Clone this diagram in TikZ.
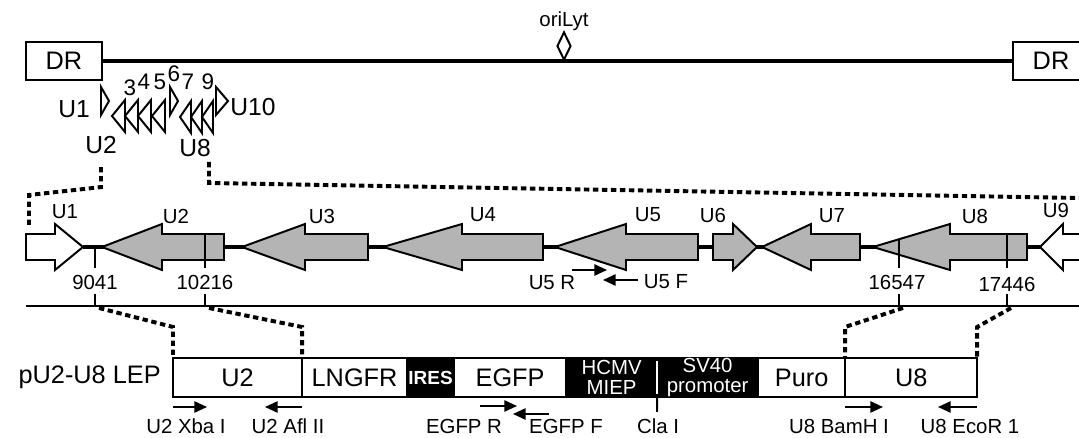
\documentclass[tikz,border=0pt]{standalone}
\usepackage{fontspec}
\setmainfont{Liberation Sans}
\usepackage{tikz}
\usetikzlibrary{shapes.geometric, arrows.meta, positioning}
\definecolor{orfgray}{RGB}{180,180,180}
\tikzstyle{genome} = [line width=2.8pt]
\tikzstyle{link} = [line width=2.8pt, dash pattern=on 3.8pt off 2.6pt]
\tikzstyle{primer} = [line width=1.4pt, -{Triangle[length=9pt, width=8pt]}]
\newcommand{\fsbig}{\fontsize{18pt}{18pt}\selectfont}
\newcommand{\fsbox}{\fontsize{18pt}{18pt}\selectfont}
\newcommand{\fstop}{\fontsize{17.5pt}{18pt}\selectfont}
\newcommand{\fslab}{\fontsize{14.5pt}{15pt}\selectfont}
\newcommand{\fsdigit}{\fontsize{16pt}{16pt}\selectfont}
\newcommand{\fsires}{\fontsize{13.5pt}{14pt}\selectfont\bfseries}
\newcommand{\fsdark}{\fontsize{14.5pt}{14pt}\selectfont}
\newcommand{\orfleft}[4]{\filldraw[fill=#4, line width=1.4pt] (#1,247) -- (#2,224) -- (#2,234) -- (#3,234) -- (#3,260) -- (#2,260) -- (#2,270) -- cycle;}
\newcommand{\orfright}[4]{\filldraw[fill=#4, line width=1.4pt] (#1,234) -- (#2,234) -- (#2,224) -- (#3,247) -- (#2,270) -- (#2,260) -- (#1,260) -- cycle;}
\newcommand{\minileft}[3]{\draw[line width=1.4pt] (#2,#3-16) -- (#1,#3) -- (#2,#3+16) -- cycle;}
\newcommand{\miniright}[3]{\draw[line width=1.4pt] (#1,#3-14) -- (#2,#3) -- (#1,#3+14) -- cycle;}

\begin{document}
\begin{tikzpicture}[x=0.025cm, y=-0.025cm,
        drbox/.style={rectangle, draw, line width=1.4pt, minimum width=1.9cm, minimum height=0.95cm, font=\fsbig},
        seg/.style={rectangle, draw, line width=1.4pt, inner sep=0pt, outer sep=0pt, minimum height=0.975cm, font=\fsbox},
        darkseg/.style={seg, fill=black, text=white},
        orflabel/.style={font=\fslab, inner sep=1pt}
        ]
        \clip (0,0) rectangle (1079,438);

        \node[drbox] (dr_left) at (64,61) {DR};
        \node[drbox] (dr_right) at (1051,61) {DR};
        \draw[line width=3pt] (dr_left) -- (dr_right);
        \node[diamond, draw, line width=1.4pt, fill=white, inner sep=0pt, minimum width=0.35cm, minimum height=0.7cm] (ori) at (564,46) {};
        \node[orflabel] (ori_lbl) at (564,21) {oriLyt};

        \miniright{101}{109}{101}
        \foreach \t in {112,125,138,152} {\minileft{\t}{\t+13}{116}}
        \miniright{170}{178}{101}
        \foreach \t in {180,191,202} {\minileft{\t}{\t+11}{117}}
        \miniright{216}{228}{101}

        \node[font=\fstop] (s_u1) at (74,109) {U1};
        \node[font=\fstop] (s_u2) at (101,145) {U2};
        \node[font=\fstop] (s_u8) at (195,148) {U8};
        \node[font=\fstop] (s_u10) at (253,107) {U10};
        \node[font=\fsdigit, inner sep=0pt] (s_3) at (130,88) {3};
        \node[font=\fsdigit, inner sep=0pt] (s_4) at (144,82) {4};
        \node[font=\fsdigit, inner sep=0pt] (s_5) at (160,82) {5};
        \node[font=\fsdigit, inner sep=0pt] (s_6) at (174,74) {6};
        \node[font=\fsdigit, inner sep=0pt] (s_7) at (188,82) {7};
        \node[font=\fsdigit, inner sep=0pt] (s_9) at (208,82) {9};

        \coordinate (map_left) at (29,225);
        \coordinate (link_u8) at (209,162);
        \coordinate (map_right) at (1079,198);
        \draw[link] ([yshift=-6pt]s_u2.south) -- ++(0,20) -- (29,195) -- (map_left);
        \draw[link] (link_u8) -- ++(0,21) -- (map_right);

        \coordinate (u1_tip) at (83,247);
        \coordinate (u9_tip) at (1040,247);
        \draw[genome] (u1_tip) -- (u9_tip);
        \orfright{26}{55}{83}{white}
        \orfleft{102}{162}{224}{orfgray}
        \orfleft{242}{305}{368}{orfgray}
        \orfleft{383}{462}{543}{orfgray}
        \orfleft{555}{626}{698}{orfgray}
        \orfright{713}{733}{757}{orfgray}
        \orfleft{762}{811}{860}{orfgray}
        \orfleft{873}{950}{1027}{orfgray}
        \orfleft{1040}{1063}{1110}{white}
        \draw[line width=1.4pt] (95,247) -- (95,268);
        \draw[line width=1.4pt] (205,234) -- (205,268);
        \draw[line width=1.4pt] (899,239) -- (899,268);
        \draw[line width=1.4pt] (1007,234) -- (1007,268);

        \node[orflabel] (g_u1) at (65,212) {U1};
        \node[orflabel] (g_u2) at (176,216) {U2};
        \node[orflabel] (g_u3) at (322,216) {U3};
        \node[orflabel] (g_u4) at (483,215) {U4};
        \node[orflabel] (g_u5) at (648,215) {U5};
        \node[orflabel] (g_u6) at (713,215) {U6};
        \node[orflabel] (g_u7) at (832,216) {U7};
        \node[orflabel] (g_u8) at (975,216) {U8};
        \node[orflabel] (g_u9) at (1056,210) {U9};

        \draw[primer] (572,270) -- (607,270);
        \draw[primer] (638,280) -- (603,280);
        \node[orflabel] (u5r) at (552,283) {U5 R};
        \node[orflabel] (u5f) at (666,282) {U5 F};

        \node[orflabel] (n9041) at (95,282) {9041};
        \node[orflabel] (n10216) at (205,282) {10216};
        \node[orflabel] (n16547) at (897,282) {16547};
        \node[orflabel] (n17446) at (1007,284) {17446};

        \coordinate (line_l) at (26,306);
        \coordinate (line_r) at (1079,306);
        \draw[line width=1.8pt] (line_l) -- (line_r);
        \foreach \x/\n in {95/a, 205/b, 899/c, 1007/d} {
            \draw[line width=1.4pt] (\x,294) -- (\x,306);
            \coordinate (t_\n) at (\x+4,308);
        }

        \node[seg, minimum width=3.225cm, anchor=west] (u2box) at (173,377.5) {U2};
        \node[seg, minimum width=2.625cm, right=0pt of u2box] (lngfr) {LNGFR};
        \node[darkseg, minimum width=1.175cm, right=0pt of lngfr, font=\fsires] (ires) {IRES};
        \node[seg, minimum width=2.8cm, right=0pt of ires] (egfp) {EGFP};
        \node[darkseg, minimum width=2.275cm, right=0pt of egfp, font=\fsdark, align=center] (hcmv) {HCMV\\MIEP};
        \node[darkseg, minimum width=2.525cm, right=0pt of hcmv, font=\fsdark, align=center] (sv40) {SV40\\promoter};
        \node[seg, minimum width=2.175cm, right=0pt of sv40] (puro) {Puro};
        \node[seg, minimum width=3.3cm, right=0pt of puro] (u8box) {U8};
        \node[font=\fsbig, inner sep=0pt, left=0.3cm of u2box] (construct) {pU2-U8 LEP};

        \draw[link] (t_a) -- ([yshift=0.775cm]u2box.north west) -- (u2box.north west);
        \draw[link] (t_b) -- ([yshift=0.775cm]u2box.north east) -- (u2box.north east);
        \draw[link] (t_c) -- ([yshift=0.775cm]u8box.north west) -- (u8box.north west);
        \draw[link] (t_d) -- ([yshift=0.775cm]u8box.north east) -- (u8box.north east);

        \coordinate (cla_cut) at (657,412);
        \draw[white, line width=1.2pt] ([yshift=-2pt]hcmv.north east) -- ([yshift=2pt]hcmv.south east);
        \draw[line width=1.4pt] (hcmv.south east) -- (cla_cut);
        \node[orflabel] (cla_lbl) at (658,426) {Cla I};

        \draw[primer] (173,407) -- (207,407);
        \draw[primer] (302,407) -- (265,407);
        \draw[primer] (480,406) -- (517,406);
        \draw[primer] (549,414) -- (513,414);
        \draw[primer] (845,407) -- (883,407);
        \draw[primer] (977,407) -- (938,407);
        \node[orflabel] (xba) at (186,426) {U2 Xba I};
        \node[orflabel] (afl) at (288,426) {U2 Afl II};
        \node[orflabel] (egfpr) at (464,426) {EGFP R};
        \node[orflabel] (egfpf) at (566,426) {EGFP F};
        \node[orflabel] (bamh) at (839,426) {U8 BamH I};
        \node[orflabel] (ecor) at (970,426) {U8 EcoR 1};

    \end{tikzpicture}
\end{document}
